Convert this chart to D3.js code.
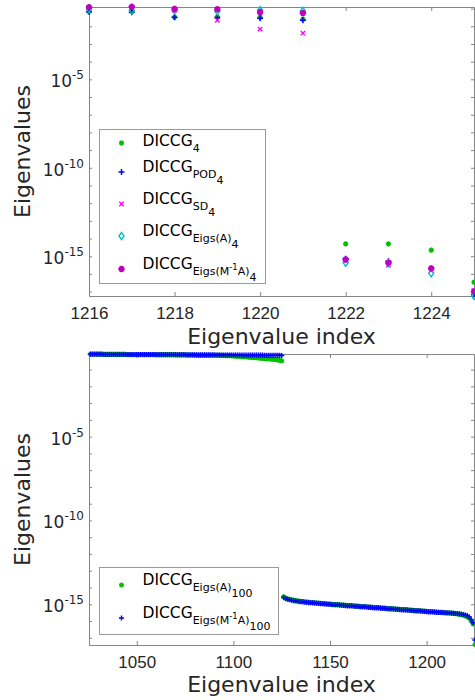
<!DOCTYPE html>
<html lang="en">
<head>
  <meta charset="UTF-8">
  <title>Eigenvalues</title>
  <script src="https://d3js.org/d3.v7.min.js"></script>
  <style>
    body { margin: 0; background: #fff; }
    svg { display: block; font-family: "DejaVu Sans", sans-serif; }
  </style>
</head>
<body>
<script>
  // values are stored as log10(eigenvalue)

  // top panel: last 10 eigenvalues, 4 deflation vectors
  const topIndex = [1216, 1217, 1218, 1219, 1220, 1221, 1222, 1223, 1224, 1225];
  const diccg4 = [-1.17, -1.18, -1.49, -1.47, -1.49, -1.60, -14.30, -14.30, -14.66, -16.47];
  const diccgPod4 = [-1.18, -1.20, -1.49, -1.51, -1.55, -1.66, -15.15, -15.28, -15.69, -17.16];
  const diccgSd4 = [-0.95, -0.98, -1.10, -1.66, -2.16, -2.39, -15.24, -15.52, -15.81, -16.95];
  const diccgEigsA4 = [-1.04, -1.09, -1.09, -1.15, -1.09, -1.13, -15.37, -15.40, -15.96, -17.25];
  const diccgEigsMA4 = [-0.92, -0.90, -1.02, -1.04, -1.21, -1.25, -15.19, -15.37, -15.69, -16.99];
  const topXTicks = [1216, 1218, 1220, 1222, 1224];

  // bottom panel: last 200 eigenvalues, 100 deflation vectors
  const bottomIndex = d3.range(1026, 1226);
  const diccgEigsA100 = [
    -0.09, -0.09, -0.09, -0.09, -0.09, -0.09, -0.09, -0.10, -0.10, -0.10,
    -0.10, -0.10, -0.10, -0.10, -0.10, -0.10, -0.10, -0.10, -0.10, -0.11,
    -0.11, -0.11, -0.11, -0.11, -0.11, -0.11, -0.11, -0.11, -0.11, -0.11,
    -0.11, -0.11, -0.12, -0.12, -0.12, -0.12, -0.12, -0.12, -0.12, -0.12,
    -0.12, -0.12, -0.12, -0.12, -0.13, -0.13, -0.13, -0.13, -0.13, -0.13,
    -0.13, -0.13, -0.13, -0.13, -0.13, -0.14, -0.14, -0.14, -0.14, -0.14,
    -0.14, -0.14, -0.14, -0.15, -0.15, -0.15, -0.15, -0.15, -0.16, -0.16,
    -0.17, -0.17, -0.18, -0.18, -0.19, -0.20, -0.20, -0.21, -0.22, -0.23,
    -0.24, -0.25, -0.26, -0.27, -0.28, -0.29, -0.30, -0.31, -0.32, -0.33,
    -0.34, -0.35, -0.36, -0.37, -0.38, -0.40, -0.41, -0.43, -0.45, -0.48,
    -14.55, -14.62, -14.67, -14.70, -14.73, -14.75, -14.77, -14.79, -14.81, -14.83,
    -14.84, -14.86, -14.87, -14.88, -14.89, -14.90, -14.91, -14.92, -14.93, -14.94,
    -14.95, -14.96, -14.97, -14.98, -14.99, -15.00, -15.01, -15.02, -15.02, -15.03,
    -15.04, -15.05, -15.06, -15.07, -15.08, -15.08, -15.09, -15.10, -15.11, -15.12,
    -15.13, -15.14, -15.14, -15.15, -15.16, -15.17, -15.18, -15.19, -15.20, -15.20,
    -15.21, -15.22, -15.23, -15.24, -15.25, -15.26, -15.26, -15.27, -15.28, -15.29,
    -15.30, -15.31, -15.32, -15.32, -15.33, -15.34, -15.35, -15.36, -15.37, -15.38,
    -15.38, -15.39, -15.40, -15.41, -15.42, -15.43, -15.43, -15.44, -15.45, -15.46,
    -15.47, -15.47, -15.48, -15.49, -15.50, -15.51, -15.52, -15.53, -15.54, -15.56,
    -15.58, -15.60, -15.63, -15.66, -15.70, -15.75, -15.82, -15.98, -16.18, -17.40
  ];
  const diccgEigsMA100 = [
    -0.08, -0.08, -0.08, -0.08, -0.08, -0.08, -0.08, -0.09, -0.09, -0.09,
    -0.09, -0.09, -0.09, -0.09, -0.09, -0.09, -0.09, -0.09, -0.09, -0.10,
    -0.10, -0.10, -0.10, -0.10, -0.10, -0.10, -0.10, -0.10, -0.10, -0.10,
    -0.10, -0.10, -0.10, -0.10, -0.11, -0.11, -0.11, -0.11, -0.11, -0.11,
    -0.11, -0.11, -0.11, -0.11, -0.11, -0.11, -0.11, -0.11, -0.11, -0.11,
    -0.12, -0.12, -0.12, -0.12, -0.12, -0.12, -0.12, -0.12, -0.12, -0.12,
    -0.12, -0.12, -0.12, -0.12, -0.12, -0.13, -0.13, -0.13, -0.13, -0.13,
    -0.13, -0.13, -0.13, -0.13, -0.13, -0.13, -0.13, -0.13, -0.13, -0.14,
    -0.14, -0.14, -0.14, -0.14, -0.14, -0.14, -0.14, -0.14, -0.14, -0.14,
    -0.15, -0.15, -0.15, -0.15, -0.15, -0.15, -0.15, -0.15, -0.15, -0.16,
    -14.60, -14.66, -14.70, -14.73, -14.76, -14.78, -14.80, -14.82, -14.84, -14.85,
    -14.86, -14.88, -14.89, -14.90, -14.91, -14.92, -14.93, -14.94, -14.95, -14.96,
    -14.97, -14.98, -14.99, -15.00, -15.01, -15.02, -15.03, -15.04, -15.04, -15.05,
    -15.06, -15.07, -15.08, -15.09, -15.10, -15.10, -15.11, -15.12, -15.13, -15.14,
    -15.15, -15.16, -15.16, -15.17, -15.18, -15.19, -15.20, -15.21, -15.22, -15.22,
    -15.23, -15.24, -15.25, -15.26, -15.27, -15.28, -15.28, -15.29, -15.30, -15.31,
    -15.32, -15.33, -15.34, -15.34, -15.35, -15.36, -15.37, -15.38, -15.39, -15.40,
    -15.40, -15.41, -15.42, -15.43, -15.44, -15.45, -15.45, -15.46, -15.47, -15.48,
    -15.48, -15.49, -15.50, -15.50, -15.51, -15.52, -15.52, -15.53, -15.54, -15.55,
    -15.56, -15.57, -15.59, -15.61, -15.64, -15.68, -15.75, -15.90, -16.10, -17.13
  ];
  const bottomXTicks = [1050, 1100, 1150, 1200];

  const yTicks = [-15, -10, -5];

  // legend labels: [text, level]  level 0 = normal, 1 = sub, 2 = sub of sub, 's' = superscript in sub
  const topLabels = [
    [['DICCG', 0], ['4', 1]],
    [['DICCG', 0], ['POD', 1], ['4', 2]],
    [['DICCG', 0], ['SD', 1], ['4', 2]],
    [['DICCG', 0], ['Eigs(A)', 1], ['4', 2]],
    [['DICCG', 0], ['Eigs(M', 1], ['-1', 's'], ['A)', 1], ['4', 2]]
  ];
  const bottomLabels = [
    [['DICCG', 0], ['Eigs(A)', 1], ['100', 2]],
    [['DICCG', 0], ['Eigs(M', 1], ['-1', 's'], ['A)', 1], ['100', 2]]
  ];

  const W = 475, H = 700;
  const axisColor = '#858585';
  const textColor = '#262626';
  const pow10 = e => Math.pow(10, e);

  // marker shapes centred at 0,0
  const markerPath = {
    asterisk: r => `M${-r},0H${r}M0,${-r}V${r}M${-r * 0.7},${-r * 0.7}L${r * 0.7},${r * 0.7}M${-r * 0.7},${r * 0.7}L${r * 0.7},${-r * 0.7}`,
    plus: r => `M${-r},0H${r}M0,${-r}V${r}`,
    cross: r => `M${-r},${-r}L${r},${r}M${-r},${r}L${r},${-r}`,
    diamond: r => `M0,${-r}L${r * 0.7},0L0,${r}L${-r * 0.7},0Z`
  };

  const svg = d3.select('body').append('svg')
    .attr('width', W)
    .attr('height', H);

  const levelDy = { 0: 0, 1: 6, 2: 12, s: 1 };
  const levelSize = { 0: 15.5, 1: 11, 2: 11, s: 8.5 };

  function drawPanel(p) {
    const x = d3.scaleLinear().domain(p.xDomain).range([p.left, p.right]);
    const y = d3.scaleLog().domain(p.yDomain.map(pow10)).range([p.bottom, p.top]);
    const g = svg.append('g');

    const decades = d3.range(Math.ceil(p.yDomain[0]), Math.floor(p.yDomain[1]) + 1).map(pow10);

    // box with ticks on all four sides
    g.append('g')
      .attr('transform', `translate(0,${p.bottom})`)
      .call(d3.axisBottom(x).tickValues(p.xTicks).tickSize(-4).tickSizeOuter(0)
        .tickPadding(11).tickFormat(d3.format('d')));
    g.append('g')
      .attr('transform', `translate(0,${p.top})`)
      .call(d3.axisTop(x).tickValues(p.xTicks).tickSize(-4).tickSizeOuter(0).tickFormat(''));
    g.append('g')
      .attr('transform', `translate(${p.left},0)`)
      .call(d3.axisLeft(y).tickValues(decades).tickSize(-3).tickSizeOuter(0).tickFormat(''));
    g.append('g')
      .attr('transform', `translate(${p.right},0)`)
      .call(d3.axisRight(y).tickValues(decades).tickSize(-3).tickSizeOuter(0).tickFormat(''));

    g.selectAll('.domain, .tick line').attr('stroke', axisColor);
    g.selectAll('.tick text').attr('fill', textColor).style('font-size', '17px');

    // y tick labels 10^n
    yTicks.forEach(e => {
      const t = g.append('text')
        .attr('x', p.left - 5)
        .attr('y', y(pow10(e)) + 8)
        .attr('text-anchor', 'end')
        .attr('fill', textColor)
        .style('font-size', '17px');
      t.append('tspan').text('10');
      t.append('tspan').attr('dy', -8).style('font-size', '12px').text(e);
    });

    // axis titles
    g.append('text')
      .attr('x', (p.left + p.right) / 2)
      .attr('y', p.bottom + p.titleGap)
      .attr('text-anchor', 'middle')
      .attr('fill', textColor)
      .style('font-size', '22px')
      .text('Eigenvalue index');
    g.append('text')
      .attr('transform', `translate(30,${(p.top + p.bottom) / 2}) rotate(-90)`)
      .attr('text-anchor', 'middle')
      .attr('fill', textColor)
      .style('font-size', '22px')
      .text('Eigenvalues');

    // data markers
    p.series.forEach(s => {
      g.append('g').selectAll('path')
        .data(s.values)
        .join('path')
        .attr('transform', (d, i) => `translate(${x(p.index[i])},${y(pow10(d))})`)
        .attr('d', markerPath[s.marker](s.r))
        .attr('fill', 'none')
        .attr('stroke', s.color)
        .attr('stroke-width', s.sw);
    });

    // legend
    const L = p.legend;
    g.append('rect')
      .attr('x', L.x).attr('y', L.y)
      .attr('width', L.w).attr('height', L.h)
      .attr('fill', '#fff')
      .attr('stroke', '#9a9a9a');
    p.series.forEach((s, i) => {
      const ry = L.rows[i];
      g.append('path')
        .attr('transform', `translate(${L.x + 22},${ry})`)
        .attr('d', markerPath[s.marker](s.r))
        .attr('fill', 'none')
        .attr('stroke', s.color)
        .attr('stroke-width', s.sw);
      const parts = p.labels[i];
      const maxDy = d3.max(parts, q => levelDy[q[1]]);
      const t = g.append('text')
        .attr('x', L.x + 43)
        .attr('y', ry + (11.3 - maxDy) / 2)
        .attr('fill', '#000');
      let cur = 0;
      parts.forEach(([txt, lv]) => {
        t.append('tspan')
          .attr('dy', levelDy[lv] - cur)
          .style('font-size', levelSize[lv] + 'px')
          .text(txt);
        cur = levelDy[lv];
      });
    });
  }

  drawPanel({
    left: 89, right: 474, top: 7, bottom: 296, titleGap: 48,
    xDomain: [1216, 1225], yDomain: [-17.25, -0.91],
    xTicks: topXTicks, index: topIndex, labels: topLabels,
    series: [
      { values: diccg4, marker: 'asterisk', r: 2.6, sw: 1.6, color: '#00c000' },
      { values: diccgPod4, marker: 'plus', r: 3, sw: 1.5, color: '#0000ff' },
      { values: diccgSd4, marker: 'cross', r: 2.2, sw: 1.4, color: '#ff00ff' },
      { values: diccgEigsA4, marker: 'diamond', r: 3.6, sw: 1.4, color: '#00bfbf' },
      { values: diccgEigsMA4, marker: 'asterisk', r: 3.2, sw: 2, color: '#bf00bf' }
    ],
    legend: { x: 99.5, y: 129.5, w: 166, h: 154, rows: [143, 172, 204, 236, 269] }
  });

  drawPanel({
    left: 89, right: 474, top: 354, bottom: 645, titleGap: 47,
    xDomain: [1025.3, 1224.5], yDomain: [-17.43, -0.07],
    xTicks: bottomXTicks, index: bottomIndex, labels: bottomLabels,
    series: [
      { values: diccgEigsA100, marker: 'asterisk', r: 2.5, sw: 1.5, color: '#00c000' },
      { values: diccgEigsMA100, marker: 'plus', r: 2.6, sw: 1.4, color: '#0000ff' }
    ],
    legend: { x: 99.5, y: 567.5, w: 179, h: 67, rows: [585, 618] }
  });
</script>
</body>
</html>
